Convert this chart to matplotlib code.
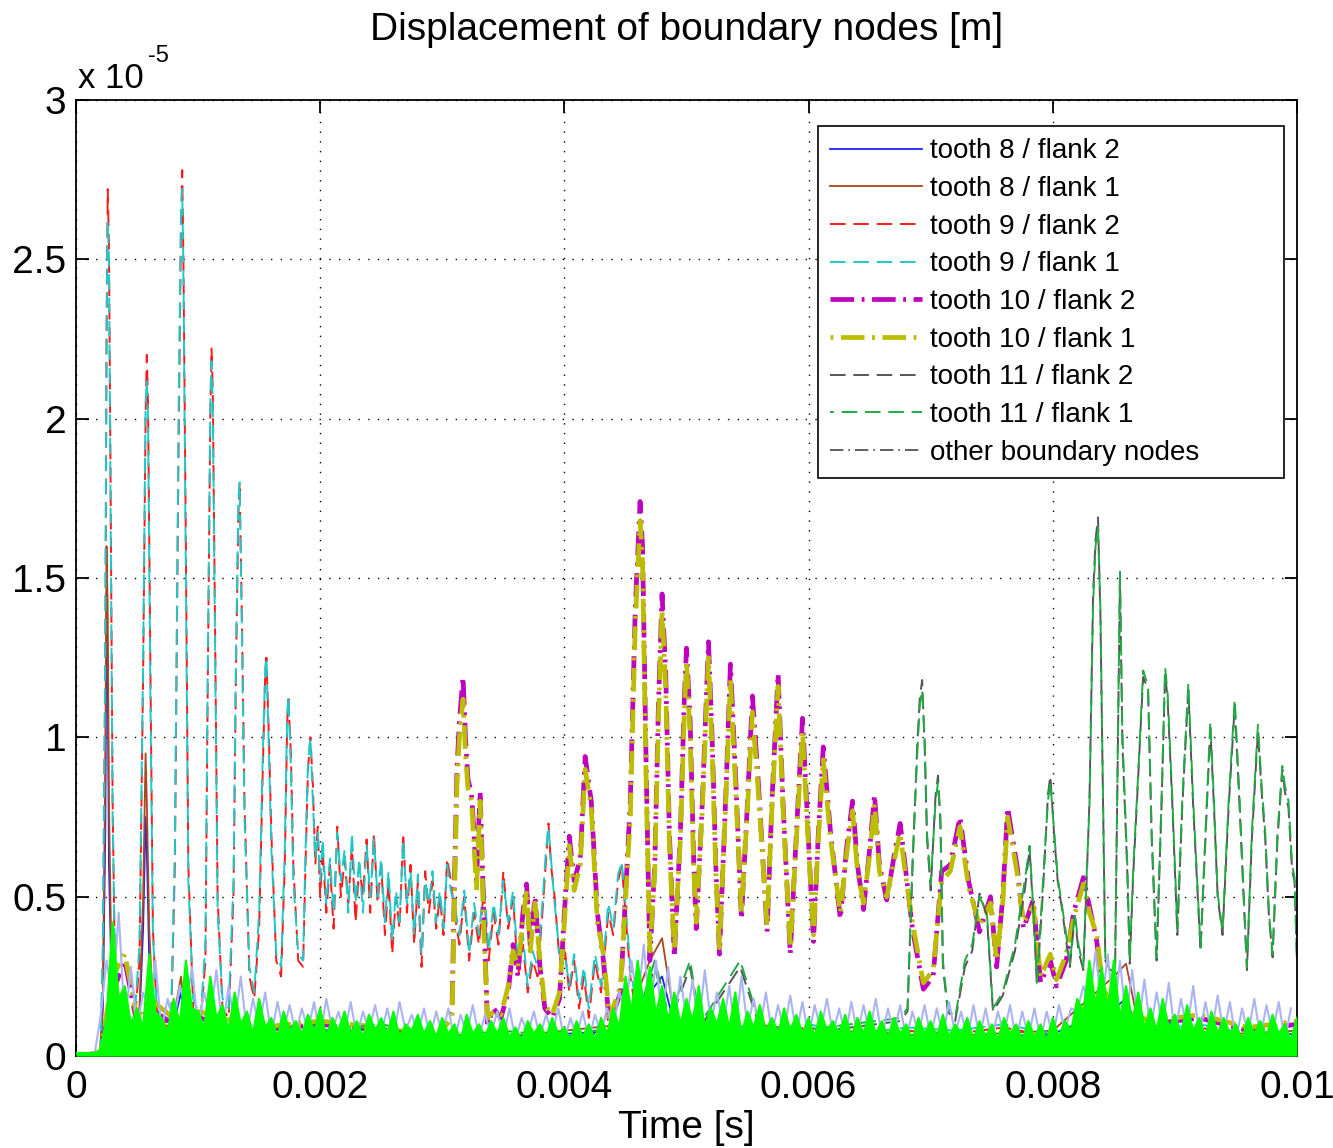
import numpy as np
import matplotlib
matplotlib.use("Agg")
import matplotlib.pyplot as plt
from matplotlib.lines import Line2D

plt.rcParams['font.family'] = ['Liberation Sans', 'DejaVu Sans']

# time in ms, displacement in units of 1e-5 m

# tooth 9 (red = flank 2, cyan = flank 1)
t9_ms = [0.00, 0.20, 0.22, 0.24, 0.25, 0.26, 0.27, 0.28, 0.30, 0.32,
         0.36, 0.42, 0.48, 0.52, 0.55, 0.57, 0.58, 0.59, 0.61, 0.63,
         0.66, 0.72, 0.78, 0.81, 0.84, 0.86, 0.87, 0.88, 0.90, 0.92,
         0.96, 1.02, 1.06, 1.08, 1.10, 1.11, 1.12, 1.14, 1.16, 1.20,
         1.25, 1.29, 1.31, 1.33, 1.34, 1.36, 1.38, 1.42, 1.46, 1.50,
         1.53, 1.55, 1.56, 1.58, 1.60, 1.64, 1.68, 1.71, 1.73, 1.74,
         1.76, 1.78, 1.82, 1.86, 1.88, 1.90, 1.92, 1.94, 1.96, 1.98,
         2.00, 2.02, 2.05, 2.08, 2.11, 2.14, 2.17, 2.20, 2.23, 2.26,
         2.29, 2.32, 2.35, 2.38, 2.41, 2.44, 2.47, 2.50, 2.53, 2.56,
         2.59, 2.62, 2.65, 2.68, 2.71, 2.74, 2.77, 2.80, 2.83, 2.86,
         2.89, 2.92, 2.95, 2.98, 3.01, 3.04, 3.07, 3.10, 3.14, 3.18,
         3.22, 3.26, 3.30, 3.34, 3.38, 3.42, 3.46, 3.50, 3.54, 3.58,
         3.62, 3.66, 3.70, 3.74, 3.78, 3.82, 3.85, 3.87, 3.89, 3.92,
         3.96, 4.00, 4.04, 4.08, 4.12, 4.16, 4.20, 4.25, 4.30, 4.36,
         4.40, 4.44, 4.47, 4.50, 4.54, 4.58, 4.62, 4.80, 5.20, 5.60,
         6.00, 6.40, 6.80, 7.20, 7.60, 8.00, 8.40, 8.80, 9.20, 9.60, 10.00]
t9_flank2 = [0.00, 0.01, 0.30, 1.20, 2.20, 2.72, 2.55, 2.00, 0.80, 0.25,
             0.12, 0.08, 0.10, 0.30, 1.20, 2.00, 2.20, 2.05, 1.20, 0.40,
             0.15, 0.08, 0.12, 0.60, 1.90, 2.60, 2.78, 2.50, 1.60, 0.60,
             0.15, 0.10, 0.30, 1.20, 2.00, 2.22, 2.10, 1.30, 0.50, 0.15,
             0.12, 0.50, 1.20, 1.70, 1.80, 1.35, 0.80, 0.25, 0.18, 0.40,
             0.90, 1.20, 1.25, 1.00, 0.70, 0.30, 0.25, 0.60, 1.05, 1.12,
             0.95, 0.60, 0.30, 0.28, 0.60, 0.90, 1.00, 0.85, 0.60, 0.72,
             0.50, 0.65, 0.45, 0.60, 0.40, 0.72, 0.50, 0.62, 0.48, 0.66,
             0.42, 0.60, 0.50, 0.68, 0.45, 0.70, 0.48, 0.60, 0.38, 0.55,
             0.32, 0.50, 0.40, 0.70, 0.45, 0.60, 0.35, 0.55, 0.28, 0.58,
             0.45, 0.55, 0.40, 0.50, 0.38, 0.62, 0.55, 0.45, 0.35, 0.50,
             0.30, 0.45, 0.35, 0.52, 0.30, 0.45, 0.35, 0.58, 0.40, 0.50,
             0.25, 0.35, 0.20, 0.30, 0.25, 0.45, 0.62, 0.73, 0.60, 0.50,
             0.30, 0.35, 0.20, 0.30, 0.15, 0.25, 0.12, 0.30, 0.20, 0.45,
             0.38, 0.55, 0.60, 0.45, 0.25, 0.15, 0.10, 0.08, 0.10, 0.07,
             0.09, 0.06, 0.08, 0.07, 0.09, 0.06, 0.08, 0.07, 0.09, 0.06, 0.07]
t9_flank1 = [0.00, 0.01, 0.35, 1.30, 2.30, 2.62, 2.50, 1.90, 0.75, 0.28,
             0.14, 0.10, 0.12, 0.35, 1.25, 2.05, 2.12, 2.00, 1.10, 0.38,
             0.16, 0.10, 0.14, 0.65, 2.00, 2.65, 2.72, 2.45, 1.50, 0.55,
             0.18, 0.12, 0.35, 1.25, 2.05, 2.18, 2.05, 1.25, 0.45, 0.18,
             0.15, 0.55, 1.25, 1.75, 1.80, 1.30, 0.75, 0.28, 0.20, 0.45,
             0.95, 1.22, 1.25, 0.95, 0.65, 0.32, 0.28, 0.65, 1.08, 1.13,
             0.90, 0.55, 0.32, 0.30, 0.65, 0.92, 1.00, 0.80, 0.62, 0.70,
             0.55, 0.68, 0.48, 0.62, 0.45, 0.70, 0.55, 0.65, 0.45, 0.70,
             0.48, 0.62, 0.45, 0.66, 0.50, 0.68, 0.50, 0.62, 0.42, 0.58,
             0.36, 0.52, 0.42, 0.68, 0.48, 0.58, 0.38, 0.57, 0.32, 0.55,
             0.48, 0.58, 0.42, 0.52, 0.40, 0.60, 0.52, 0.48, 0.38, 0.52,
             0.32, 0.48, 0.38, 0.55, 0.33, 0.48, 0.38, 0.55, 0.42, 0.52,
             0.28, 0.38, 0.22, 0.33, 0.28, 0.48, 0.65, 0.72, 0.62, 0.48,
             0.32, 0.33, 0.22, 0.32, 0.18, 0.28, 0.15, 0.32, 0.22, 0.48,
             0.40, 0.57, 0.61, 0.48, 0.28, 0.18, 0.12, 0.09, 0.11, 0.08,
             0.10, 0.07, 0.09, 0.08, 0.10, 0.07, 0.09, 0.08, 0.10, 0.07, 0.08]

# tooth 8 (blue = flank 2, brown = flank 1)
t8_ms = [0.00, 0.20, 0.22, 0.24, 0.25, 0.26, 0.27, 0.29, 0.33, 0.40,
         0.46, 0.52, 0.55, 0.57, 0.58, 0.60, 0.63, 0.70, 0.80, 0.86,
         0.90, 1.00, 1.20, 1.50, 2.00, 2.50, 3.00, 3.50, 4.00, 4.50,
         4.70, 4.80, 4.90, 5.20, 5.60, 6.00, 6.50, 7.00, 7.50, 8.00,
         8.50, 8.60, 8.70, 9.00, 9.50, 10.00]
t8_flank1 = [0.00, 0.01, 0.20, 0.90, 1.60, 1.40, 0.80, 0.30, 0.15, 0.12,
             0.08, 0.15, 0.50, 0.95, 0.80, 0.40, 0.15, 0.10, 0.12, 0.25,
             0.10, 0.08, 0.10, 0.07, 0.08, 0.06, 0.07, 0.06, 0.08, 0.10,
             0.30, 0.37, 0.12, 0.08, 0.10, 0.07, 0.08, 0.06, 0.07, 0.08,
             0.25, 0.29, 0.10, 0.08, 0.07, 0.08]
t8_flank2 = [0.00, 0.01, 0.15, 0.70, 1.45, 1.20, 0.60, 0.25, 0.12, 0.10,
             0.07, 0.12, 0.40, 0.75, 0.65, 0.30, 0.12, 0.08, 0.10, 0.20,
             0.08, 0.07, 0.08, 0.06, 0.07, 0.05, 0.06, 0.05, 0.07, 0.08,
             0.20, 0.25, 0.10, 0.07, 0.08, 0.06, 0.07, 0.05, 0.06, 0.07,
             0.15, 0.18, 0.08, 0.07, 0.06, 0.07]

# tooth 10 (magenta = flank 2, olive = flank 1)
t10_ms = [0.00, 0.20, 0.30, 0.40, 0.50, 0.60, 0.80, 1.00, 1.50, 2.00,
          2.50, 2.95, 3.08, 3.10, 3.12, 3.14, 3.17, 3.19, 3.21, 3.24,
          3.26, 3.28, 3.31, 3.34, 3.37, 3.42, 3.48, 3.54, 3.58, 3.62,
          3.66, 3.69, 3.72, 3.76, 3.80, 3.84, 3.90, 3.96, 4.00, 4.04,
          4.08, 4.13, 4.17, 4.22, 4.27, 4.32, 4.37, 4.46, 4.54, 4.58,
          4.62, 4.64, 4.67, 4.70, 4.74, 4.77, 4.80, 4.83, 4.86, 4.90,
          4.95, 4.98, 5.00, 5.03, 5.06, 5.08, 5.13, 5.18, 5.21, 5.24,
          5.27, 5.32, 5.36, 5.40, 5.45, 5.50, 5.54, 5.59, 5.66, 5.70,
          5.75, 5.79, 5.85, 5.90, 5.95, 5.99, 6.04, 6.08, 6.12, 6.18,
          6.26, 6.31, 6.36, 6.40, 6.45, 6.50, 6.54, 6.58, 6.64, 6.71,
          6.75, 6.79, 6.85, 6.94, 7.02, 7.09, 7.16, 7.24, 7.31, 7.40,
          7.49, 7.54, 7.59, 7.63, 7.71, 7.76, 7.84, 7.90, 7.98, 8.03,
          8.11, 8.17, 8.25, 8.30, 8.36, 8.41, 8.47, 8.80, 9.20, 9.60, 10.00]
t10_flank2 = [0.00, 0.01, 0.20, 0.30, 0.10, 0.15, 0.10, 0.12, 0.08, 0.10,
              0.08, 0.05, 0.15, 0.55, 0.90, 1.05, 1.19, 1.00, 0.87, 0.82,
              0.70, 0.55, 0.83, 0.45, 0.10, 0.15, 0.12, 0.20, 0.35, 0.25,
              0.45, 0.54, 0.35, 0.50, 0.28, 0.15, 0.12, 0.18, 0.45, 0.69,
              0.55, 0.62, 0.94, 0.80, 0.45, 0.30, 0.10, 0.20, 0.80, 1.40,
              1.74, 1.60, 0.90, 0.30, 0.60, 1.10, 1.45, 1.20, 0.70, 0.31,
              0.70, 1.10, 1.28, 1.05, 0.60, 0.40, 0.80, 1.30, 1.00, 0.60,
              0.32, 0.80, 1.23, 0.90, 0.43, 0.80, 1.13, 0.85, 0.39, 0.80,
              1.20, 0.80, 0.32, 0.70, 1.06, 0.75, 0.36, 0.70, 0.97, 0.70,
              0.43, 0.65, 0.80, 0.60, 0.46, 0.65, 0.82, 0.60, 0.49, 0.65,
              0.73, 0.60, 0.40, 0.21, 0.25, 0.58, 0.60, 0.75, 0.55, 0.39,
              0.50, 0.28, 0.50, 0.78, 0.59, 0.40, 0.49, 0.23, 0.30, 0.22,
              0.30, 0.45, 0.56, 0.47, 0.36, 0.20, 0.15, 0.10, 0.12, 0.08, 0.10]
t10_flank1 = [0.00, 0.01, 0.25, 0.32, 0.12, 0.18, 0.12, 0.14, 0.09, 0.11,
              0.09, 0.06, 0.12, 0.50, 0.85, 1.00, 1.12, 0.95, 0.84, 0.80,
              0.66, 0.52, 0.80, 0.40, 0.12, 0.14, 0.13, 0.22, 0.33, 0.28,
              0.42, 0.52, 0.33, 0.48, 0.30, 0.16, 0.13, 0.20, 0.42, 0.66,
              0.52, 0.60, 0.90, 0.78, 0.42, 0.32, 0.12, 0.22, 0.75, 1.35,
              1.68, 1.55, 0.85, 0.33, 0.58, 1.05, 1.40, 1.15, 0.66, 0.33,
              0.68, 1.05, 1.24, 1.00, 0.58, 0.42, 0.78, 1.25, 0.96, 0.58,
              0.34, 0.78, 1.18, 0.86, 0.45, 0.78, 1.08, 0.82, 0.41, 0.78,
              1.16, 0.78, 0.34, 0.68, 1.02, 0.72, 0.38, 0.68, 0.93, 0.68,
              0.45, 0.63, 0.77, 0.58, 0.48, 0.63, 0.79, 0.58, 0.50, 0.63,
              0.70, 0.58, 0.42, 0.23, 0.27, 0.55, 0.58, 0.72, 0.53, 0.41,
              0.48, 0.30, 0.48, 0.75, 0.57, 0.42, 0.47, 0.25, 0.32, 0.24,
              0.32, 0.43, 0.54, 0.45, 0.38, 0.22, 0.16, 0.11, 0.13, 0.09, 0.11]

# tooth 11 (grey = flank 2, green = flank 1)
t11_ms = [0.00, 0.20, 0.50, 1.00, 1.50, 2.00, 2.50, 3.00, 3.50, 4.00,
          4.50, 4.62, 4.74, 4.86, 5.03, 5.11, 5.44, 5.60, 5.93, 6.34,
          6.75, 6.81, 6.85, 6.89, 6.91, 6.93, 6.95, 6.97, 7.00, 7.04,
          7.06, 7.08, 7.10, 7.14, 7.20, 7.28, 7.34, 7.40, 7.46, 7.51,
          7.59, 7.69, 7.77, 7.81, 7.85, 7.87, 7.92, 7.96, 7.98, 8.01,
          8.04, 8.08, 8.11, 8.14, 8.18, 8.21, 8.25, 8.28, 8.30, 8.33,
          8.35, 8.37, 8.39, 8.40, 8.43, 8.47, 8.51, 8.53, 8.55, 8.57,
          8.61, 8.63, 8.66, 8.70, 8.74, 8.78, 8.81, 8.85, 8.89, 8.92,
          8.94, 8.98, 9.02, 9.06, 9.11, 9.15, 9.21, 9.25, 9.29, 9.32,
          9.35, 9.39, 9.44, 9.49, 9.53, 9.56, 9.59, 9.63, 9.68, 9.71,
          9.74, 9.77, 9.80, 9.84, 9.88, 9.90, 9.93, 9.96, 9.98, 10.00]
t11_flank1 = [0.00, 0.01, 0.08, 0.10, 0.06, 0.08, 0.10, 0.06, 0.08, 0.06,
              0.10, 0.15, 0.30, 0.12, 0.30, 0.10, 0.30, 0.10, 0.08, 0.10,
              0.12, 0.15, 0.60, 0.95, 1.10, 1.15, 1.00, 0.70, 0.54, 0.80,
              0.86, 0.75, 0.30, 0.15, 0.12, 0.30, 0.35, 0.50, 0.45, 0.15,
              0.20, 0.35, 0.55, 0.66, 0.40, 0.23, 0.55, 0.80, 0.86, 0.71,
              0.56, 0.46, 0.38, 0.29, 0.45, 0.35, 0.28, 0.60, 0.78, 1.42,
              1.60, 1.66, 1.40, 1.12, 0.31, 0.28, 0.28, 0.90, 1.52, 1.01,
              0.60, 0.30, 0.60, 0.89, 1.21, 1.16, 0.70, 0.31, 0.80, 1.22,
              1.14, 0.80, 0.40, 0.80, 1.17, 0.80, 0.34, 0.70, 1.05, 0.80,
              0.51, 0.39, 0.80, 1.12, 0.80, 0.54, 0.28, 0.70, 1.04, 0.85,
              0.70, 0.45, 0.32, 0.70, 0.91, 0.85, 0.80, 0.60, 0.56, 0.30]
t11_flank2 = [0.00, 0.01, 0.07, 0.09, 0.05, 0.07, 0.09, 0.05, 0.07, 0.05,
              0.09, 0.13, 0.28, 0.10, 0.28, 0.09, 0.28, 0.09, 0.07, 0.09,
              0.11, 0.14, 0.58, 0.98, 1.12, 1.18, 0.98, 0.68, 0.52, 0.82,
              0.88, 0.72, 0.28, 0.14, 0.11, 0.28, 0.33, 0.51, 0.44, 0.14,
              0.19, 0.33, 0.52, 0.65, 0.38, 0.22, 0.52, 0.82, 0.88, 0.70,
              0.55, 0.45, 0.36, 0.28, 0.44, 0.33, 0.27, 0.58, 0.80, 1.45,
              1.62, 1.69, 1.38, 1.10, 0.30, 0.27, 0.27, 0.88, 1.50, 0.98,
              0.58, 0.29, 0.58, 0.88, 1.19, 1.15, 0.68, 0.30, 0.78, 1.20,
              1.12, 0.78, 0.38, 0.78, 1.15, 0.78, 0.33, 0.68, 1.03, 0.78,
              0.50, 0.38, 0.78, 1.10, 0.78, 0.52, 0.27, 0.68, 1.02, 0.83,
              0.68, 0.44, 0.31, 0.68, 0.90, 0.83, 0.78, 0.58, 0.55, 0.29]

# other boundary nodes: peaks of the dense band every 0.1 ms (green),
# the dips between them, and the lavender traces poking out of the band
band_green = [0.01, 0.01, 0.02, 0.42, 0.22, 0.15, 0.32, 0.12, 0.18, 0.30,
              0.14, 0.25, 0.16, 0.20, 0.14, 0.18, 0.12, 0.14, 0.11, 0.13,
              0.15, 0.12, 0.14, 0.11, 0.13, 0.12, 0.14, 0.10, 0.13, 0.11,
              0.12, 0.10, 0.13, 0.10, 0.11, 0.12, 0.09, 0.11, 0.10, 0.12,
              0.09, 0.11, 0.10, 0.12, 0.15, 0.25, 0.30, 0.28, 0.22, 0.20,
              0.18, 0.22, 0.15, 0.18, 0.20, 0.14, 0.16, 0.12, 0.15, 0.13,
              0.12, 0.14, 0.11, 0.13, 0.12, 0.14, 0.11, 0.12, 0.10, 0.12,
              0.11, 0.13, 0.10, 0.12, 0.11, 0.10, 0.12, 0.10, 0.11, 0.10,
              0.12, 0.11, 0.18, 0.30, 0.28, 0.30, 0.22, 0.20, 0.15, 0.18,
              0.13, 0.16, 0.12, 0.14, 0.12, 0.10, 0.12, 0.11, 0.13, 0.10,
              0.12]
band_dips = [0.01, 0.01, 0.12, 0.18, 0.10, 0.09, 0.14, 0.08, 0.10, 0.15,
             0.09, 0.12, 0.08, 0.10, 0.07, 0.09, 0.06, 0.08, 0.07, 0.08,
             0.06, 0.08, 0.07, 0.06, 0.08, 0.07, 0.06, 0.08, 0.07, 0.06,
             0.07, 0.05, 0.07, 0.06, 0.07, 0.06, 0.05, 0.07, 0.06, 0.07,
             0.05, 0.06, 0.05, 0.07, 0.09, 0.14, 0.16, 0.13, 0.11, 0.10,
             0.11, 0.09, 0.10, 0.09, 0.07, 0.09, 0.08, 0.07, 0.08, 0.07,
             0.06, 0.08, 0.07, 0.06, 0.07, 0.07, 0.06, 0.07, 0.05, 0.07,
             0.06, 0.06, 0.07, 0.05, 0.06, 0.05, 0.07, 0.05, 0.06, 0.05,
             0.06, 0.08, 0.14, 0.16, 0.15, 0.12, 0.11, 0.09, 0.08, 0.09,
             0.07, 0.08, 0.06, 0.07, 0.07, 0.05, 0.07, 0.06, 0.07, 0.05]
band_lavender = [0.00, 0.00, 0.30, 0.45, 0.28, 0.20, 0.30, 0.18, 0.22, 0.28,
                 0.20, 0.27, 0.22, 0.25, 0.18, 0.20, 0.17, 0.16, 0.15, 0.17,
                 0.18, 0.14, 0.17, 0.14, 0.16, 0.15, 0.17, 0.13, 0.15, 0.14,
                 0.15, 0.13, 0.16, 0.13, 0.14, 0.15, 0.12, 0.14, 0.13, 0.15,
                 0.12, 0.14, 0.13, 0.15, 0.20, 0.30, 0.35, 0.30, 0.28, 0.25,
                 0.24, 0.27, 0.20, 0.22, 0.25, 0.18, 0.20, 0.16, 0.19, 0.17,
                 0.16, 0.18, 0.15, 0.17, 0.16, 0.18, 0.15, 0.16, 0.14, 0.16,
                 0.15, 0.17, 0.14, 0.16, 0.15, 0.14, 0.16, 0.14, 0.15, 0.14,
                 0.16, 0.15, 0.22, 0.33, 0.32, 0.30, 0.27, 0.24, 0.20, 0.23,
                 0.18, 0.22, 0.17, 0.19, 0.17, 0.15, 0.18, 0.16, 0.17, 0.15]

x_ticks = [0, 0.002, 0.004, 0.006, 0.008, 0.01]
x_tick_labels = ['0', '0.002', '0.004', '0.006', '0.008', '0.01']
y_ticks = [0, 0.5, 1, 1.5, 2, 2.5, 3]
y_tick_labels = ['0', '0.5', '1', '1.5', '2', '2.5', '3']


def sec(ms):
    return np.array(ms) * 1e-3


fig = plt.figure(figsize=(13.33, 11.48), dpi=100)
ax = fig.add_axes([0.057, 0.080, 0.916, 0.833])

dash = (8, 4)
dashdot = (5, 1.6, 0.6, 1.6)

ax.plot(sec(t8_ms), t8_flank2, color='#2020ff', lw=1.3, label='tooth 8 / flank 2')
ax.plot(sec(t8_ms), t8_flank1, color='#a8481e', lw=1.3, label='tooth 8 / flank 1')
ax.plot(sec(t9_ms), t9_flank2, color='#ff1a1a', lw=1.4, dashes=dash, label='tooth 9 / flank 2')
ax.plot(sec(t9_ms), t9_flank1, color='#1ec8c8', lw=1.4, dashes=dash, label='tooth 9 / flank 1')
ax.plot(sec(t10_ms), t10_flank2, color='#c000c0', lw=3.4, dashes=dashdot, label='tooth 10 / flank 2')
ax.plot(sec(t10_ms), t10_flank1, color='#bcbc00', lw=3.4, dashes=(0.6, 1.6, 5, 1.6),
        label='tooth 10 / flank 1')
ax.plot(sec(t11_ms), t11_flank2, color='#555555', lw=1.4, dashes=dash, label='tooth 11 / flank 2')
ax.plot(sec(t11_ms), t11_flank1, color='#22a845', lw=1.4, linestyle=(6, (8, 4)),
        label='tooth 11 / flank 1')

# dense band of the other boundary nodes: peaks and dips merged in time order
zig_t, zig_v = [], []
lav_t, lav_v = [], []
for i in range(len(band_dips)):
    zig_t += [0.1 * i, 0.1 * i + 0.05]
    zig_v += [band_green[i], band_dips[i]]
    lav_t += [0.1 * i, 0.1 * i + 0.05]
    lav_v += [band_dips[i], band_lavender[i]]
zig_t.append(10.0)
zig_v.append(band_green[-1])

ax.plot(sec(lav_t), lav_v, color='#aab4f0', lw=1.5, zorder=3)
ax.fill_between(sec(zig_t), 0, zig_v, color='#00ff00', lw=0, zorder=4)
ax.plot(sec(zig_t), zig_v, color='#00ff00', lw=1.5, zorder=4)

ax.set_xlim(0, 0.01)
ax.set_ylim(0, 3)
ax.set_xticks(x_ticks)
ax.set_xticklabels(x_tick_labels)
ax.set_yticks(y_ticks)
ax.set_yticklabels(y_tick_labels)
ax.tick_params(direction='in', length=9, width=1.3, top=True, right=True,
               labelsize=28, pad=7)
ax.tick_params(axis='x', pad=10)
for s in ax.spines.values():
    s.set_linewidth(1.3)
ax.grid(True, color='black', lw=1.0, linestyle=(0, (1, 6)))
ax.set_axisbelow(True)

handles, labels = ax.get_legend_handles_labels()
handles.append(Line2D([], [], color='#444444', lw=1.2, dashes=(8, 3, 1, 3)))
labels.append('other boundary nodes')
leg = ax.legend(handles, labels, loc='upper left', bbox_to_anchor=(0.6077, 0.5, 0.3817, 0.4728),
                mode='expand', borderaxespad=0, fontsize=20, handlelength=3.3,
                handletextpad=0.3, labelspacing=0.42, fancybox=False, framealpha=1,
                edgecolor='black', borderpad=0.45)
leg.get_frame().set_linewidth(1.2)
leg.set_zorder(10)

fig.text(0.515, 0.965, 'Displacement of boundary nodes [m]', ha='center', va='baseline', fontsize=28)
fig.text(0.515, 0.009, 'Time [s]', ha='center', va='baseline', fontsize=28)
fig.text(0.0585, 0.923, 'x 10', ha='left', va='baseline', fontsize=25)
fig.text(0.111, 0.946, '-5', ha='left', va='baseline', fontsize=17)

fig.savefig('out.png', dpi=100)
